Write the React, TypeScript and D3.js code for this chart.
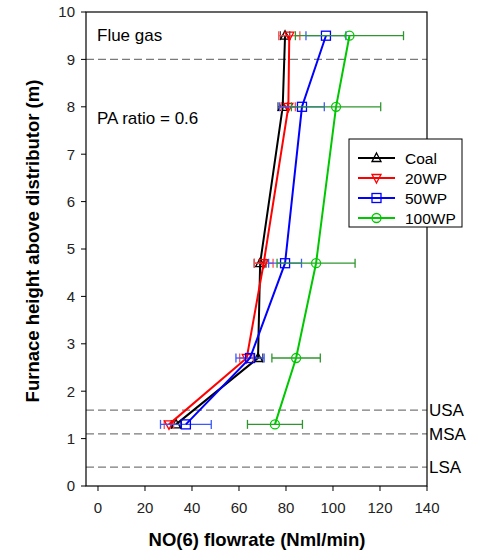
import React from "react";
import * as d3 from "d3";

const heights = [9.5, 8, 4.7, 2.7, 1.3];
const coal = [79.6, 78.6, 69, 68.1, 33.2];
const coalErr = [2, 2, 2.5, 2, 2];
const wp20 = [81.4, 81, 70.5, 63.3, 30.2];
const wp20Err = [4.5, 3, 4, 3, 2];
const wp50 = [97, 86.8, 79.6, 64.7, 37.4];
const wp50Err = [8.5, 9.5, 7, 6, 10.8];
const wp100 = [107, 101.3, 92.8, 84.3, 75.3];
const wp100Err = [23, 19, 16.6, 10.3, 11.7];

const xTicks = [0, 20, 40, 60, 80, 100, 120, 140];
const yTicks = [0, 1, 2, 3, 4, 5, 6, 7, 8, 9, 10];
const zoneLevels = [9, 1.6, 1.1, 0.4];
const zoneLabels = ["", "USA", "MSA", "LSA"];

const seriesNames = ["Coal", "20WP", "50WP", "100WP"];
const seriesValues = [coal, wp20, wp50, wp100];
const seriesErrs = [coalErr, wp20Err, wp50Err, wp100Err];
const lineColors = ["#000000", "#ff0000", "#0000ff", "#00c800"];
const errColors = ["#404040", "#ff5050", "#3a5aff", "#2f962f"];
const markers = ["triUp", "triDown", "square", "circle"];

const FONT = "Arial, 'Liberation Sans', sans-serif";

function Marker({ type, x, y, color }: { type: string; x: number; y: number; color: string }) {
  const s = 4.5;
  const common = { fill: "none", stroke: color, strokeWidth: 1.3 };
  if (type === "triUp")
    return <path d={`M${x},${y - s - 0.5} L${x + s},${y + s - 1} L${x - s},${y + s - 1} Z`} {...common} />;
  if (type === "triDown")
    return <path d={`M${x},${y + s + 0.5} L${x + s},${y - s + 1} L${x - s},${y - s + 1} Z`} {...common} />;
  if (type === "square")
    return <rect x={x - s} y={y - s} width={2 * s} height={2 * s} {...common} />;
  return <circle cx={x} cy={y} r={s} {...common} />;
}

export default function App() {
  const W = 481, H = 550;
  const left = 86, right = 427, top = 12, bottom = 486;
  const xMin = -5.1;
  const x = d3.scaleLinear().domain([xMin, 140]).range([left, right]);
  const y = d3.scaleLinear().domain([0, 10]).range([bottom, top]);
  const line = d3.line<[number, number]>().x(d => x(d[0])).y(d => y(d[1]));

  return (
    <svg width={W} height={H} style={{ position: "absolute", left: 0, top: 0, background: "#fff" }} fontFamily={FONT}>
      {zoneLevels.map((lv, i) => (
        <g key={"z" + i}>
          <line x1={left} x2={right} y1={y(lv)} y2={y(lv)} stroke="#7a7a7a" strokeWidth={1.3} strokeDasharray="8,4" />
          {zoneLabels[i] && (
            <text x={right + 2} y={y(lv)} dy="0.36em" fontSize={17} fill="#000">{zoneLabels[i]}</text>
          )}
        </g>
      ))}

      {seriesValues.map((vals, si) => {
        const pts: [number, number][] = vals.map((v, i) => [v, heights[i]]);
        return (
          <g key={"s" + si}>
            {vals.map((v, i) => {
              const e = seriesErrs[si][i];
              const yy = y(heights[i]);
              return (
                <g key={i} stroke={errColors[si]} strokeWidth={1.3}>
                  <line x1={x(v - e)} x2={x(v + e)} y1={yy} y2={yy} />
                  <line x1={x(v - e)} x2={x(v - e)} y1={yy - 4.5} y2={yy + 4.5} />
                  <line x1={x(v + e)} x2={x(v + e)} y1={yy - 4.5} y2={yy + 4.5} />
                </g>
              );
            })}
            <path d={line(pts) || ""} fill="none" stroke={lineColors[si]} strokeWidth={2} />
            {vals.map((v, i) => (
              <Marker key={"m" + i} type={markers[si]} x={x(v)} y={y(heights[i])} color={lineColors[si]} />
            ))}
          </g>
        );
      })}

      <rect x={left} y={top} width={right - left} height={bottom - top} fill="none" stroke="#000" strokeWidth={1.2} />

      {yTicks.map(t => (
        <g key={"yt" + t}>
          <line x1={left - 5} x2={left} y1={y(t)} y2={y(t)} stroke="#000" strokeWidth={1} />
          <text x={left - 11} y={y(t)} dy="0.36em" textAnchor="end" fontSize={15} fill="#222">{t}</text>
        </g>
      ))}
      {xTicks.map(t => (
        <g key={"xt" + t}>
          <line x1={x(t)} x2={x(t)} y1={bottom} y2={bottom + 5} stroke="#000" strokeWidth={1} />
          <text x={x(t)} y={bottom + 27} textAnchor="middle" fontSize={15} fill="#222">{t}</text>
        </g>
      ))}

      <text x={257} y={546} textAnchor="middle" fontSize={18.5} fontWeight="bold" fill="#000">NO(6) flowrate (Nml/min)</text>
      <text transform={`translate(39,241) rotate(-90)`} textAnchor="middle" fontSize={18.5} fontWeight="bold" fill="#000">
        Furnace height above distributor (m)
      </text>

      <text x={97} y={41} fontSize={17} fill="#000">Flue gas</text>
      <text x={97} y={124} fontSize={17} fill="#000">PA ratio = 0.6</text>

      <g>
        <rect x={349} y={139} width={113} height={88} fill="#fff" stroke="#000" strokeWidth={1} />
        {seriesNames.map((n, i) => {
          const ly = 158 + i * 20;
          return (
            <g key={"l" + i}>
              <line x1={358} x2={395} y1={ly} y2={ly} stroke={lineColors[i]} strokeWidth={2} />
              <Marker type={markers[i]} x={376.5} y={ly} color={lineColors[i]} />
              <text x={405} y={ly} dy="0.36em" fontSize={15.5} fill="#000">{n}</text>
            </g>
          );
        })}
      </g>
    </svg>
  );
}
